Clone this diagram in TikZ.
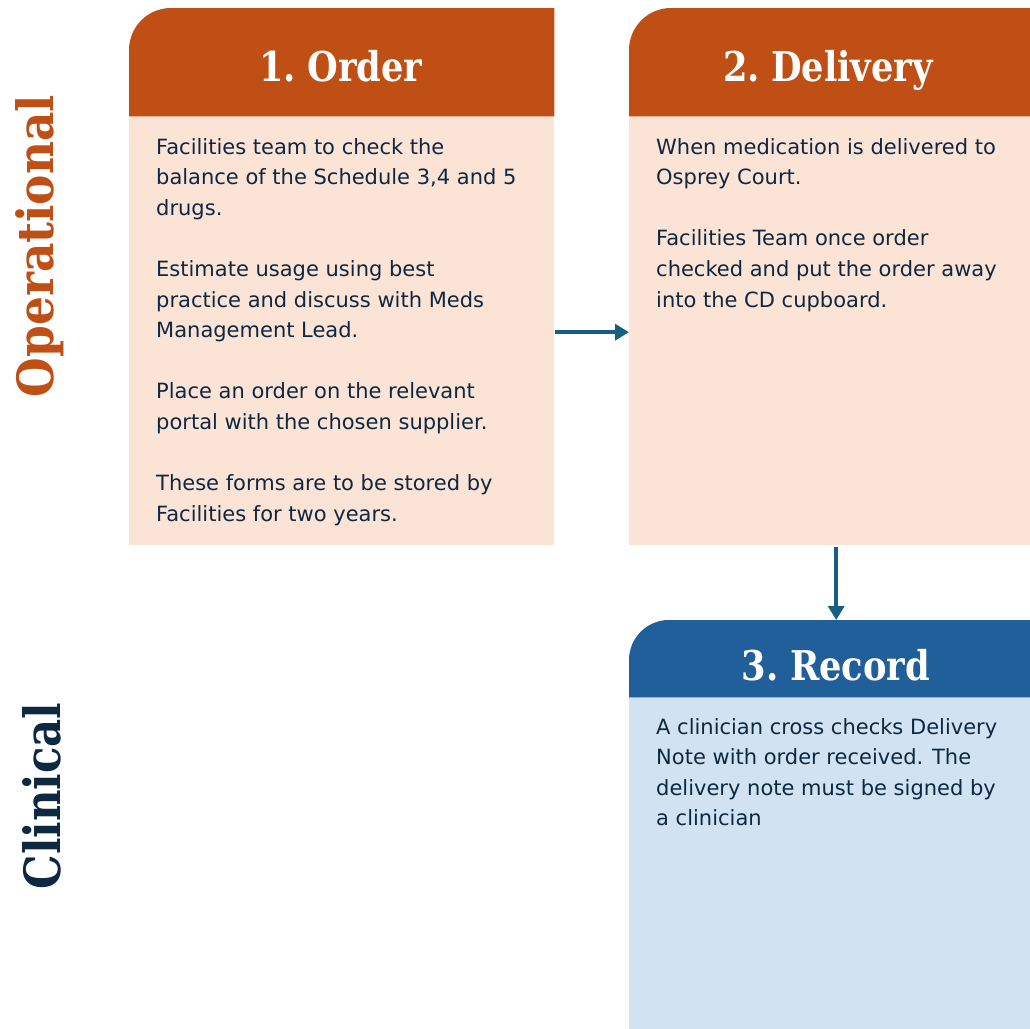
\documentclass[tikz,border=0pt]{standalone}
\usepackage{fontspec}
\usetikzlibrary{arrows.meta}
\setmainfont{DejaVu Sans}
\newfontfamily\opfont[FakeStretch=0.91]{DejaVu Serif}
\newfontfamily\clfont[FakeStretch=0.87]{DejaVu Serif}
\newfontfamily\headfont[FakeStretch=0.86]{DejaVu Serif}
\definecolor{orangeH}{HTML}{C04F15}
\definecolor{peach}{HTML}{FBE3D6}
\definecolor{blueH}{HTML}{215F9A}
\definecolor{lightblue}{HTML}{D1E3F3}
\definecolor{textC}{HTML}{0E2841}
\definecolor{arrowC}{HTML}{156082}
\tikzset{
  bodybox/.style={rectangle, draw=none, inner sep=0pt, anchor=north west},
  bodytext/.style={anchor=north west, inner sep=0pt, align=left, text=textC,
     font=\fontsize{21}{30.6}\selectfont},
  headtext/.style={anchor=base, inner sep=0pt, text=white,
     font=\headfont\bfseries\fontsize{41}{48}\selectfont},
  sidelabel/.style={anchor=base, rotate=90, inner sep=0pt},
  flow/.style={draw=arrowC, line width=3.5pt, -{Triangle[length=14pt,width=16pt]}},
}
\begin{document}
\begin{tikzpicture}[x=1pt,y=1pt]
\useasboundingbox (0,0) rectangle (1030,-1028);
\clip (0,0) rectangle (1030,-1028);

% Order
\node[bodybox, fill=peach, minimum width=425pt, minimum height=429pt] (obody) at (129,-116) {};
\node[bodybox, minimum width=425pt, minimum height=108pt] (ohead) at (129,-8) {};
\fill[orangeH] (ohead.south west) -- ([yshift=-42pt]ohead.north west)
  arc[start angle=180, end angle=90, radius=42pt] -- (ohead.north east) -- (ohead.south east) -- cycle;
\node[headtext] (otitle) at (341,-81) {1.\hspace{-5pt} Order};
\node[bodytext] (otext) at (156,-138) {Facilities team to check the\\balance of the Schedule 3,4 and 5\\drugs.\\[30.6pt]Estimate usage using best\\practice and discuss with Meds\\Management Lead.\\[30.6pt]Place an order on the relevant\\portal with the chosen supplier.\\[30.6pt]These forms are to be stored by\\Facilities for two years.};

% Delivery
\node[bodybox, fill=peach, minimum width=414pt, minimum height=429pt] (dbody) at (629,-116) {};
\node[bodybox, minimum width=414pt, minimum height=108pt] (dhead) at (629,-8) {};
\fill[orangeH] (dhead.south west) -- ([yshift=-42pt]dhead.north west)
  arc[start angle=180, end angle=90, radius=42pt] -- (dhead.north east) -- (dhead.south east) -- cycle;
\node[headtext] (dtitle) at (828,-81) {2.\hspace{-5pt} Delivery};
\node[bodytext] (dtext) at (656,-138) {When medication is delivered to\\Osprey Court.\\[30.6pt]Facilities Team once order\\checked and put the order away\\into the CD cupboard.};

% Record
\node[bodybox, fill=lightblue, minimum width=414pt, minimum height=335pt] (rbody) at (629,-697) {};
\node[bodybox, minimum width=414pt, minimum height=77pt] (rhead) at (629,-620) {};
\fill[blueH] (rhead.south west) -- ([yshift=-40pt]rhead.north west)
  arc[start angle=180, end angle=90, radius=40pt] -- (rhead.north east) -- (rhead.south east) -- cycle;
\node[headtext] (rtitle) at (836,-680) {3.\hspace{-5pt} Record};
\node[bodytext] (rtext) at (656,-718) {A clinician cross checks Delivery\\Note with order received. The\\delivery note must be signed by\\a clinician};

% Side labels
\node[sidelabel, text=orangeH, font=\opfont\bfseries\fontsize{50}{55}\selectfont] (oplabel) at (53,-246) {Operational};
\node[sidelabel, text=textC, font=\clfont\bfseries\fontsize{50}{55}\selectfont] (cllabel) at (60,-796) {Clinical};

% Connectors
\draw[flow] ([xshift=1pt,yshift=-1.5pt]obody.east) -- ([yshift=-1.5pt]dbody.west);
\draw[flow] ([yshift=-2pt]dbody.south) -- (rhead.north);
\end{tikzpicture}
\end{document}
